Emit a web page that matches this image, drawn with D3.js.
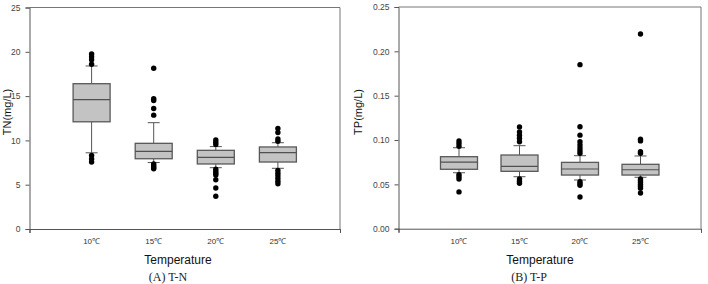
<!DOCTYPE html>
<html><head><meta charset="utf-8">
<script src="https://cdn.jsdelivr.net/npm/d3@7"></script>
<style>body{margin:0;background:#fff}svg{display:block}</style>
</head><body>
<svg id="c" width="708" height="284"></svg>
<script>
const categories = ["10\u2103","15\u2103","20\u2103","25\u2103"];

// (A) T-N
const tnQ1 = [12.1, 7.93, 7.34, 7.56];
const tnMedian = [14.6, 8.77, 8.09, 8.62];
const tnQ3 = [16.4, 9.67, 8.88, 9.26];
const tnLow = [8.6, 7.5, 6.92, 6.85];
const tnHigh = [18.4, 12.0, 9.3, 9.74];
const tnOutliers = [
  [19.75, 19.45, 19.1, 18.6, 8.3, 7.9, 7.55],
  [18.15, 14.7, 14.5, 13.6, 12.85, 7.35, 7.15, 6.95, 6.8],
  [10.05, 9.8, 9.55, 6.75, 6.5, 6.3, 6.1, 5.56, 4.63, 3.7],
  [11.35, 10.9, 10.15, 9.9, 6.6, 6.3, 6.0, 5.7, 5.4, 5.1]
];
const tnTicks = [0, 5, 10, 15, 20, 25];

// (B) T-P
const tpQ1 = [0.067, 0.0647, 0.0605, 0.0605];
const tpMedian = [0.0750, 0.0703, 0.0673, 0.0665];
const tpQ3 = [0.0812, 0.0831, 0.0748, 0.0726];
const tpLow = [0.0631, 0.0586, 0.0549, 0.058];
const tpHigh = [0.0913, 0.0936, 0.0823, 0.082];
const tpOutliers = [
  [0.0990, 0.0960, 0.0930, 0.0610, 0.0585, 0.0560, 0.0415],
  [0.1148, 0.1090, 0.1055, 0.1020, 0.0980, 0.0560, 0.0535, 0.0512],
  [0.1850, 0.1150, 0.1055, 0.0980, 0.0945, 0.0910, 0.0880, 0.0850, 0.0530, 0.0510, 0.0490, 0.0357],
  [0.2195, 0.1008, 0.0990, 0.0868, 0.0850, 0.0560, 0.0540, 0.0520, 0.0500, 0.0480, 0.0455, 0.0402]
];
const tpTicks = [0, 0.05, 0.10, 0.15, 0.20, 0.25];

const svg = d3.select("#c");

function panel(o) {
  const x = d3.scaleLinear().domain([0, 5]).range([o.left, o.right]);
  const y = d3.scaleLinear().domain([0, o.max]).range([o.bottom, o.top]);
  const g = svg.append("g");
  const axisCol = "#555";

  // frame top & right
  g.append("line").attr("x1", x(0)).attr("x2", x(5)).attr("y1", y(o.max)).attr("y2", y(o.max))
    .attr("stroke", "#777").attr("stroke-width", 1);
  g.append("line").attr("x1", x(5)).attr("x2", x(5)).attr("y1", y(o.max)).attr("y2", y(0))
    .attr("stroke", "#777").attr("stroke-width", 1);

  // y axis
  const ya = d3.axisLeft(y).tickValues(o.ticks).tickFormat(o.fmt).tickSize(4).tickPadding(5);
  const yg = g.append("g").attr("transform", `translate(${x(0)},0)`).call(ya);
  yg.select(".domain").attr("stroke", axisCol);
  yg.selectAll(".tick line").attr("stroke", axisCol);
  yg.selectAll("text").attr("fill", "#444").style("font-family", "Liberation Sans, Arial, sans-serif").style("font-size", "8.5px");

  // x axis
  const xa = d3.axisBottom(x).tickValues([0, 5]).tickFormat("").tickSize(4);
  const xg = g.append("g").attr("transform", `translate(0,${y(0)})`).call(xa);
  xg.select(".domain").attr("stroke", axisCol);
  xg.selectAll(".tick line").attr("stroke", axisCol);

  g.selectAll("text.cat").data(categories).join("text").attr("class", "cat")
    .attr("x", (d, i) => x(i + 1)).attr("y", y(0) + 15)
    .attr("text-anchor", "middle").attr("fill", "#333")
    .style("font-family", "Liberation Sans, Arial, sans-serif").style("font-size", "8px")
    .text(d => d);

  const bw = 37, cap = 12;
  categories.forEach((c, i) => {
    const cx = x(i + 1);
    const bg = g.append("g");
    // whiskers
    bg.append("line").attr("x1", cx).attr("x2", cx).attr("y1", y(o.q3[i])).attr("y2", y(o.high[i])).attr("stroke", "#555");
    bg.append("line").attr("x1", cx).attr("x2", cx).attr("y1", y(o.q1[i])).attr("y2", y(o.low[i])).attr("stroke", "#555");
    bg.append("line").attr("x1", cx - cap / 2).attr("x2", cx + cap / 2).attr("y1", y(o.high[i])).attr("y2", y(o.high[i])).attr("stroke", "#555");
    bg.append("line").attr("x1", cx - cap / 2).attr("x2", cx + cap / 2).attr("y1", y(o.low[i])).attr("y2", y(o.low[i])).attr("stroke", "#555");
    // box
    bg.append("rect").attr("x", cx - bw / 2).attr("width", bw)
      .attr("y", y(o.q3[i])).attr("height", y(o.q1[i]) - y(o.q3[i]))
      .attr("fill", "#c3c3c3").attr("stroke", "#595959").attr("stroke-width", 1.3);
    bg.append("line").attr("x1", cx - bw / 2).attr("x2", cx + bw / 2)
      .attr("y1", y(o.median[i])).attr("y2", y(o.median[i])).attr("stroke", "#505050").attr("stroke-width", 1.2);
    // outliers
    bg.selectAll("circle").data(o.outliers[i]).join("circle")
      .attr("cx", cx).attr("cy", d => y(d)).attr("r", 2.7).attr("fill", "#000");
  });

  // axis titles
  g.append("text").attr("x", o.titleX).attr("y", 264).attr("text-anchor", "middle")
    .attr("fill", "#111").style("font-family", "Liberation Sans, Arial, sans-serif").style("font-size", "12px")
    .text("Temperature");
  g.append("text").attr("transform", `translate(${o.ylabX},112) rotate(-90)`).attr("text-anchor", "middle")
    .attr("dy", "0.35em").attr("fill", "#111").style("font-family", "Liberation Sans, Arial, sans-serif").style("font-size", "11px")
    .text(o.ylab);
  g.append("text").attr("x", o.capX).attr("y", 281).attr("text-anchor", "middle")
    .attr("fill", "#222").style("font-family", "Liberation Serif, DejaVu Serif, serif").style("font-size", "12px")
    .text(o.caption);
}

panel({left: 29.5, right: 340, top: 7.5, bottom: 229, max: 25, ticks: tnTicks, fmt: d3.format("d"),
  q1: tnQ1, median: tnMedian, q3: tnQ3, low: tnLow, high: tnHigh, outliers: tnOutliers,
  titleX: 178, ylabX: 7, ylab: "TN(mg/L)", capX: 168, caption: "(A)  T-N"});
panel({left: 398.5, right: 701, top: 7, bottom: 228.7, max: 0.25, ticks: tpTicks, fmt: d3.format(".2f"),
  q1: tpQ1, median: tpMedian, q3: tpQ3, low: tpLow, high: tpHigh, outliers: tpOutliers,
  titleX: 540, ylabX: 358, ylab: "TP(mg/L)", capX: 529, caption: "(B)  T-P"});
</script>
</body></html>
